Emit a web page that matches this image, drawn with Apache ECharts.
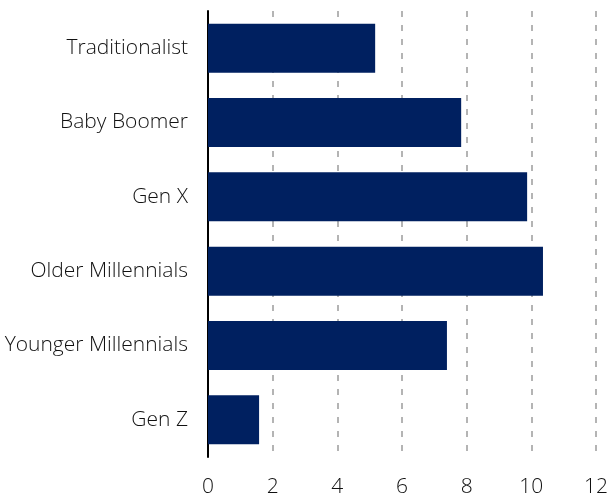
<!DOCTYPE html>
<html>
<head>
<meta charset="utf-8">
<script src="https://cdn.jsdelivr.net/npm/echarts@6/dist/echarts.min.js"></script>
<style>
  html, body { margin: 0; padding: 0; background: #fff; }
  #chart { width: 607px; height: 499px; }
</style>
</head>
<body>
<div id="chart"></div>
<script>
const categories = ['Traditionalist', 'Baby Boomer', 'Gen X', 'Older Millennials', 'Younger Millennials', 'Gen Z'];
const values = [5.17, 7.83, 9.87, 10.36, 7.39, 1.58];
const xTicks = { min: 0, max: 12, interval: 2 };

const font = '"Open Sans", "Noto Sans", sans-serif';

const chart = echarts.init(document.getElementById('chart'));
chart.setOption({
  animation: false,
  grid: { left: 208, right: 11, top: 11, bottom: 42, containLabel: false, outerBoundsMode: 'none' },
  xAxis: {
    type: 'value',
    min: xTicks.min,
    max: xTicks.max,
    interval: xTicks.interval,
    axisLine: { show: false },
    axisTick: { show: false },
    axisLabel: { color: '#111', fontSize: 21, fontFamily: font, fontWeight: 300, margin: 20 },
    splitLine: { show: true, lineStyle: { color: '#b4b4b4', width: 2, type: [6, 8] } }
  },
  yAxis: {
    type: 'category',
    data: categories,
    inverse: true,
    axisLine: { show: true, lineStyle: { color: '#000', width: 2 } },
    axisTick: { show: false },
    axisLabel: { color: '#111', fontSize: 21, fontFamily: font, fontWeight: 300, margin: 20 }
  },
  series: [{
    type: 'bar',
    data: values,
    barCategoryGap: '34%',
    itemStyle: { color: '#002060' }
  }]
});
</script>
</body>
</html>
